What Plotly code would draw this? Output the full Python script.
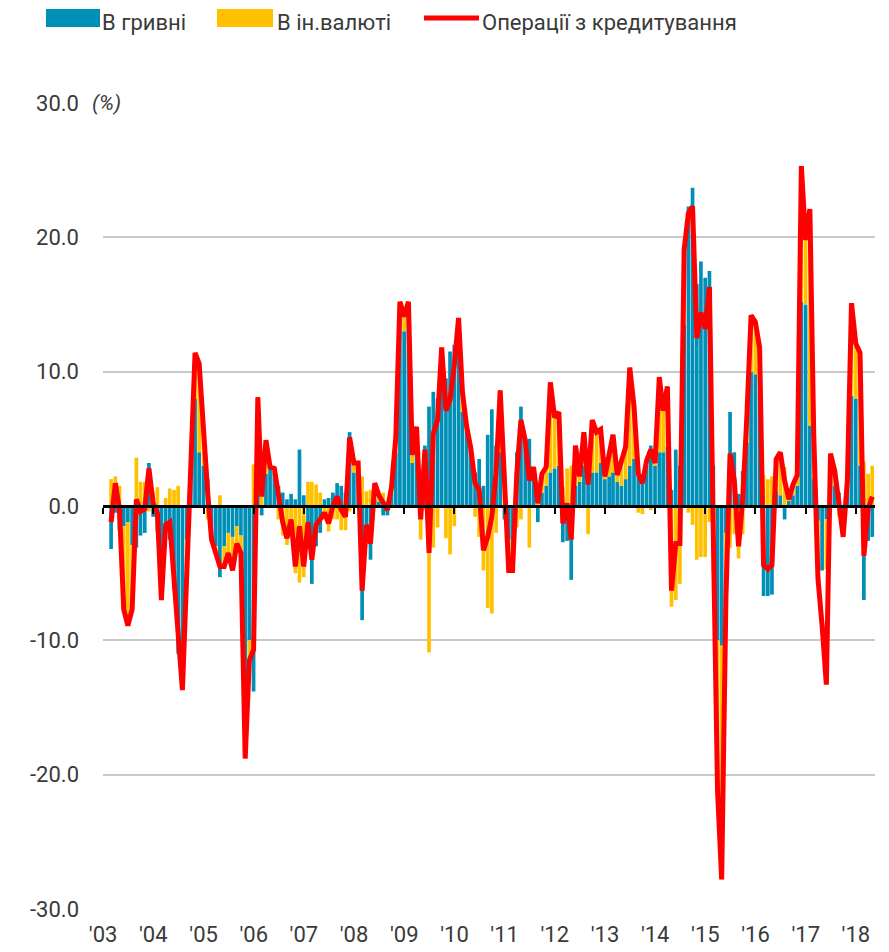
import pandas as pd
import plotly.graph_objects as go

# ---------------- data (monthly, Feb 2003 .. Apr 2018), % ----------------
month_start = "2003-03-01"
n_months = 183

uah = [
    -3.2, -0.5, -1.8, -1.5, -1.2, -2.9, -3.1, -2.2, -2.0, 3.2, -0.8,
    -1.9, -5.5, -2.0, -2.5, -6.2, -11.0, -13.0, -2.5, 2.5, 8.0, 4.0, 3.0, 2.0,
    -2.5, -3.0, -5.3, -3.0, -2.0, -2.3, -1.5, -2.2, -18.3, -10.0, -13.8, 5.0,
    -0.7, 2.4, 2.8, 2.5, 1.5, 1.0, 0.5, 0.9, 0.5, 4.2, 0.8, -3.0,
    -5.8, -3.0, -2.0, 0.5, 0.6, 1.0, 1.7, 1.5, 1.0, 5.5, 2.5, 2.0,
    -8.5, -2.5, -4.0, 0.5, 0.3, -0.7, -0.7, 1.0, 4.0, 14.0, 13.0, 14.5,
    3.2, 5.0, 1.5, 4.5, 7.4, 8.5, 8.0, 9.5, 9.5, 11.5, 12.0, 12.3,
    7.0, 5.5, 4.0, 2.5, 3.5, 1.5, 5.3, 7.2, 4.5, 4.0, -1.0, -2.5,
    -4.8, 4.0, 7.4, 4.5, 5.0, 2.5, -1.2, 1.0, 1.5, 2.5, 2.8, 3.0,
    -2.7, -2.6, -5.5, 1.5, 1.8, 3.0, 3.7, 2.5, 2.5, 3.2, 2.0, 2.2,
    2.5, 1.8, 1.5, 2.0, 3.0, 3.5, 2.9, 2.3, 3.0, 4.5, 3.0, 4.0,
    4.0, 4.4, 1.2, 4.2, 3.0, 13.5, 22.3, 23.7, 16.5, 18.2, 17.0, 17.5,
    3.0, -10.0, -10.4, -2.0, 7.0, 4.0, 0.9, 2.6, 4.7, 10.0, 9.8, 8.5,
    -6.7, -6.7, -6.6, 1.1, 0.8, -1.0, 0.4, 0.8, 1.5, 15.2, 15.0, 6.0,
    2.0, -1.1, -4.8, -1.0, 2.5, 1.5, 1.0, -0.9, 1.5, 8.2, 8.0, 3.0,
    -7.0, -2.6, -2.3,
]

fx = [
    2.0, 2.2, 1.5, -6.2, -7.7, -4.8, 3.6, 1.8, 1.8, -0.4, 1.0,
    1.4, -1.5, 0.6, 1.3, 1.2, 1.5, -0.7, -2.8, 0.5, 3.4, 6.6, 2.5, -1.0,
    0.0, -0.6, 0.8, -1.5, -1.5, -2.5, -1.3, -1.3, -0.5, -1.5, 3.1, 3.1,
    1.4, 2.5, 0.1, 0.3, -1.0, -2.2, -2.9, -1.9, -5.0, -5.7, -5.3, 1.8,
    1.8, 1.6, 1.0, -1.0, -1.9, -1.0, -1.0, -1.8, -1.8, -0.4, 0.7, 1.2,
    2.2, 1.1, 1.2, 1.2, 0.5, 1.0, 0.4, 0.4, 1.1, 1.2, 1.1, 0.7,
    0.6, 0.9, -2.5, -0.3, -10.9, -3.1, -1.6, 2.3, -2.4, -3.6, -1.5, 1.7,
    1.5, 0.4, 0.3, -0.8, -2.3, -4.8, -7.6, -8.0, -2.0, 4.6, 2.5, -2.3,
    0.0, -1.6, -1.0, 0.4, -3.1, 0.4, 1.4, 1.4, 1.4, 6.7, 3.8, 4.0,
    1.4, 2.8, 3.0, 3.0, 0.4, 2.5, -2.1, 3.9, 3.0, 2.5, 0.2, 1.7,
    2.8, 0.5, 1.9, 2.4, 7.3, 3.9, -0.5, -0.6, 0.4, -0.3, 0.2, 5.6,
    3.1, 4.5, -7.5, -7.0, -5.8, 5.6, -0.5, -1.4, -4.0, -3.8, -3.8, -1.2,
    -5.0, -11.2, -17.4, -4.8, -3.1, -2.1, -3.9, -2.1, 2.1, 4.2, 3.9, 3.3,
    2.3, 2.0, 2.2, 2.4, 3.2, 2.9, 0.1, 0.8, 0.8, 10.1, 4.8, 16.1,
    3.4, -3.6, 0.0, -3.7, 1.4, 1.1, -0.8, -1.4, 0.4, 6.9, 4.1, 8.4,
    3.3, 2.4, 3.0,
]

lending = [
    -1.2, 1.7, -0.3, -7.7, -8.9, -7.7, 0.5, -0.4, -0.2, 2.8, 0.2,
    -0.5, -7.0, -1.4, -1.2, -5.0, -9.5, -13.7, -5.3, 3.0, 11.4, 10.6, 5.5, 1.0,
    -2.5, -3.6, -4.5, -4.5, -3.5, -4.8, -2.8, -3.5, -18.8, -11.5, -10.7, 8.1,
    0.7, 4.9, 2.9, 2.8, 0.5, -1.2, -2.4, -1.0, -4.5, -1.5, -4.5, -1.2,
    -4.0, -1.4, -1.0, -0.5, -1.3, 0.0, 0.7, -0.3, -0.8, 5.1, 3.2, 3.2,
    -6.3, -1.4, -2.8, 1.7, 0.8, 0.3, -0.3, 1.4, 5.1, 15.2, 14.1, 15.2,
    3.8, 5.9, -1.0, 4.2, -3.5, 5.4, 6.4, 11.8, 7.1, 7.9, 10.5, 14.0,
    8.5, 5.9, 4.3, 1.7, 1.2, -3.3, -2.3, -0.8, 2.5, 8.6, 1.5, -4.8,
    -4.8, 2.4, 6.4, 4.9, 1.9, 2.9, 0.2, 2.4, 2.9, 9.2, 6.6, 7.0,
    -1.3, 0.2, -2.5, 4.5, 2.2, 5.5, 1.6, 6.4, 5.5, 5.7, 2.2, 3.9,
    5.3, 2.3, 3.4, 4.4, 10.3, 7.4, 2.4, 1.7, 3.4, 4.2, 3.2, 9.6,
    7.1, 8.9, -6.3, -2.8, -2.8, 19.1, 21.8, 22.3, 12.5, 14.4, 13.2, 16.3,
    -2.0, -21.2, -27.8, -6.8, 3.9, 1.9, -3.0, 0.5, 6.8, 14.2, 13.7, 11.8,
    -4.4, -4.7, -4.4, 3.5, 4.0, 1.9, 0.5, 1.6, 2.3, 25.3, 19.8, 22.1,
    5.4, -5.4, -8.9, -13.3, 3.9, 2.6, 0.2, -2.3, 1.9, 15.1, 12.1, 11.4,
    -3.7, -0.2, 0.7,
]

series_names = ["В гривні", "В ін.валюті", "Операції з кредитування"]
year_ticks = [f"{y}-01-01" for y in range(2003, 2019)]
year_labels = ["'03", "'04", "'05", "'06", "'07", "'08", "'09", "'10",
               "'11", "'12", "'13", "'14", "'15", "'16", "'17", "'18"]
y_ticks = [-30, -20, -10, 0, 10, 20, 30]
y_labels = ["-30.0", "-20.0", "-10.0", "0.0", "10.0", "20.0", "30.0"]

# month-end dates
months = pd.date_range(month_start, periods=n_months, freq="MS") - pd.Timedelta(days=1)

# ---------------- styling ----------------
FONT = "Roboto, Liberation Sans, sans-serif"
BLUE = "#0090B7"
YELLOW = "#FFC000"
RED = "#FF0000"
TXT = "#3a3a3a"

# the page body has an 8px margin; the figure is sized to fit the 889x952 window
W, H = 881, 944

fig = go.Figure()
fig.add_trace(go.Bar(x=months, y=uah, name=series_names[0], marker=dict(color=BLUE, line=dict(width=0))))
fig.add_trace(go.Bar(x=months, y=fx, name=series_names[1], marker=dict(color=YELLOW, line=dict(width=0))))
fig.add_trace(go.Scatter(x=months, y=lending, name=series_names[2], mode="lines",
                         line=dict(color=RED, width=5)))
# helper trace so the zero-line axis (with year ticks) is drawn
fig.add_trace(go.Scatter(x=[months[0]], y=[None], xaxis="x2", yaxis="y",
                         showlegend=False, hoverinfo="skip", mode="lines"))

fig.update_layout(
    width=W, height=H,
    margin=dict(l=95, r=14, t=95, b=43),
    barmode="relative", bargap=0.04,
    plot_bgcolor="white", paper_bgcolor="white",
    showlegend=False,
    font=dict(family=FONT, size=22, color=TXT),
    xaxis=dict(type="date", range=["2002-12-31", "2018-05-20"],
               tickvals=year_ticks, ticktext=year_labels, automargin=False,
               showgrid=False, zeroline=False, showline=False, ticks="",
               ticklabelstandoff=10, tickfont=dict(size=22, color=TXT)),
    xaxis2=dict(type="date", overlaying="x", matches="x", anchor="free", position=0.5,
                tickvals=year_ticks, showticklabels=False, automargin=False,
                ticks="outside", ticklen=6, tickwidth=2, tickcolor="black",
                showline=True, linecolor="black", linewidth=2.5,
                showgrid=False, zeroline=False),
    yaxis=dict(range=[-30, 30], tickvals=y_ticks, ticktext=y_labels, automargin=False,
               showgrid=True, gridcolor="#C8C8C8", gridwidth=2,
               zeroline=False, showline=False, ticks="",
               ticklabelstandoff=23, tickfont=dict(size=22, color=TXT)),
)

# unit label next to the top tick
fig.add_annotation(x=0, xref="paper", xanchor="left", xshift=-15,
                   y=30, yref="y", yanchor="middle",
                   text="<i>(%)</i>", showarrow=False, bgcolor="white",
                   font=dict(size=21, color=TXT), borderpad=3)

# custom legend (large swatches); positions given in window pixels
PL, PR, PT, PB = 103, 875, 103, 909   # plot area edges in the window


def px_x(p):
    return (p - PL) / (PR - PL)


def px_y(p):
    return (PB - p) / (PB - PT)


fig.add_shape(type="rect", xref="paper", yref="paper",
              x0=px_x(46), x1=px_x(100), y0=px_y(27), y1=px_y(9),
              fillcolor=BLUE, line=dict(width=0))
fig.add_shape(type="rect", xref="paper", yref="paper",
              x0=px_x(217), x1=px_x(273), y0=px_y(27), y1=px_y(9),
              fillcolor=YELLOW, line=dict(width=0))
fig.add_shape(type="line", xref="paper", yref="paper",
              x0=px_x(424), x1=px_x(479), y0=px_y(18), y1=px_y(18),
              line=dict(color=RED, width=5))
for name, px in zip(series_names, [101, 276, 481]):
    fig.add_annotation(x=px_x(px), y=px_y(22), xref="paper", yref="paper",
                       xanchor="left", yanchor="middle", text=name, showarrow=False,
                       font=dict(size=22, color=TXT), borderpad=0)

fig.write_html("out.html")
